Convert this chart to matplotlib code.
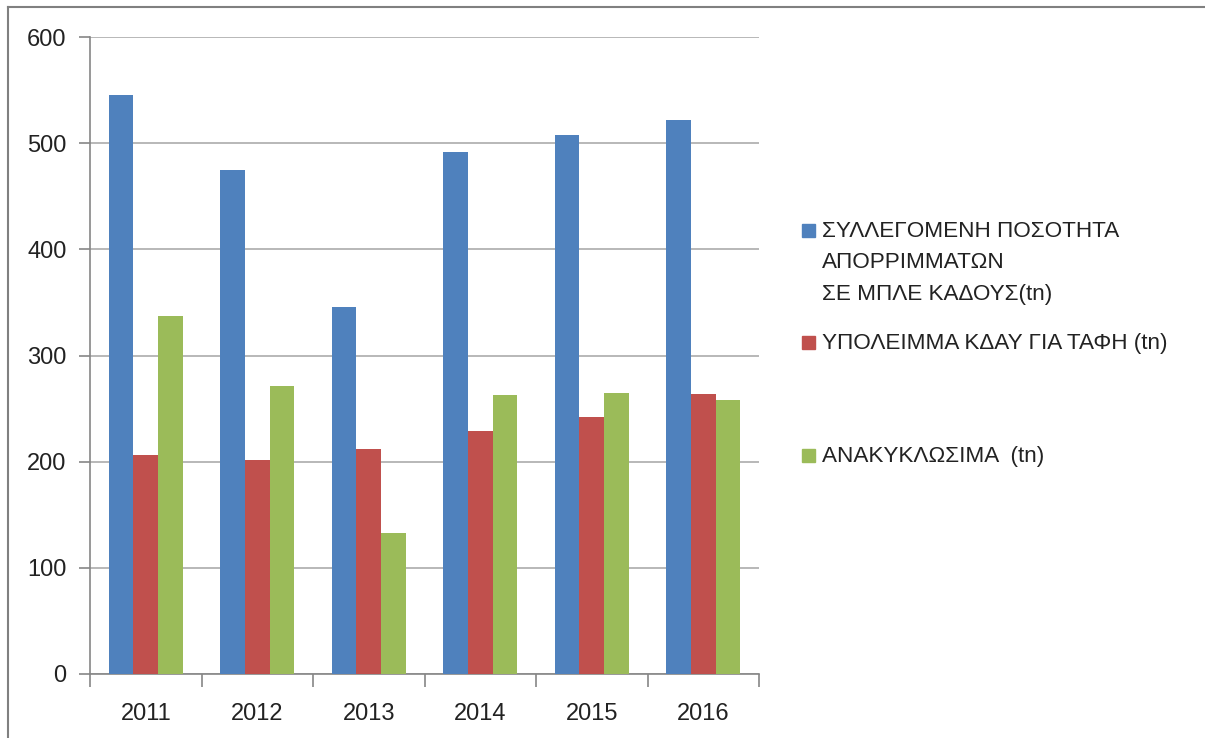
import matplotlib.pyplot as plt
import numpy as np
from matplotlib.patches import Rectangle
from matplotlib.lines import Line2D

plt.rcParams['font.family'] = ['Liberation Sans', 'DejaVu Sans']

years = ['2011', '2012', '2013', '2014', '2015', '2016']
collected = [545, 475, 346, 492, 508, 522]
residue = [206, 202, 212, 229, 242, 264]
recyclables = [337, 271, 133, 263, 265, 258]

series = [collected, residue, recyclables]
labels = ['ΣΥΛΛΕΓΟΜΕΝΗ ΠΟΣΟΤΗΤΑ\nΑΠΟΡΡΙΜΜΑΤΩΝ\nΣΕ ΜΠΛΕ ΚΑΔΟΥΣ(tn)',
          'ΥΠΟΛΕΙΜΜΑ ΚΔΑΥ ΓΙΑ ΤΑΦΗ (tn)',
          'ΑΝΑΚΥΚΛΩΣΙΜΑ  (tn)']
colors = ['#4F81BD', '#C0504D', '#9BBB59']

W, H = 1205, 738
fig = plt.figure(figsize=(W / 100, H / 100), dpi=100)
ax = fig.add_axes([90 / W, 1 - 674 / H, (759 - 90) / W, (674 - 37) / H])

x = np.arange(len(years))
bw = 1 / 4.5
for i, (vals, c) in enumerate(zip(series, colors)):
    ax.bar(x + (i - 1) * bw, vals, width=bw, color=c, linewidth=0, zorder=3)

ax.set_xlim(-0.5, len(years) - 0.5)
ax.set_ylim(0, 600)
ax.set_yticks(range(0, 601, 100))
ax.yaxis.grid(True, color='#B8B8B8', linewidth=1.4, zorder=0)
ax.set_axisbelow(True)

# category labels centred, tick marks at the boundaries
ax.set_xticks(x)
ax.set_xticklabels(years, fontsize=17, color='#222222')
ax.set_xticks(np.arange(-0.5, len(years), 1), minor=True)
ax.tick_params(axis='x', which='major', length=0, pad=21)
ax.tick_params(axis='x', which='minor', length=9, width=1.2, color='#868686')
ax.tick_params(axis='y', length=8, width=1.2, color='#868686', pad=9,
               labelsize=17, labelcolor='#222222')

for s in ['top', 'right']:
    ax.spines[s].set_visible(False)
for s in ['left', 'bottom']:
    ax.spines[s].set_color('#868686')
    ax.spines[s].set_linewidth(1.2)

# outer chart border (left and top)
fig.add_artist(Line2D([8 / W, 8 / W], [0, 1 - 7 / H], color='#808080', lw=1.5))
fig.add_artist(Line2D([8 / W, 1], [1 - 7 / H, 1 - 7 / H], color='#808080', lw=1.5))

# legend drawn by hand to match the uneven spacing
legend_y = [230, 342, 455]
for lab, c, yy in zip(labels, colors, legend_y):
    fig.add_artist(Rectangle((802 / W, 1 - (yy + 7) / H), 13 / W, 13 / H,
                             color=c, transform=fig.transFigure))
    fig.text(822 / W, 1 - (yy - 9) / H, lab, fontsize=16.2, color='#222222',
             va='top', ha='left', linespacing=1.65)

fig.savefig('out.png', dpi=100, facecolor='white')
